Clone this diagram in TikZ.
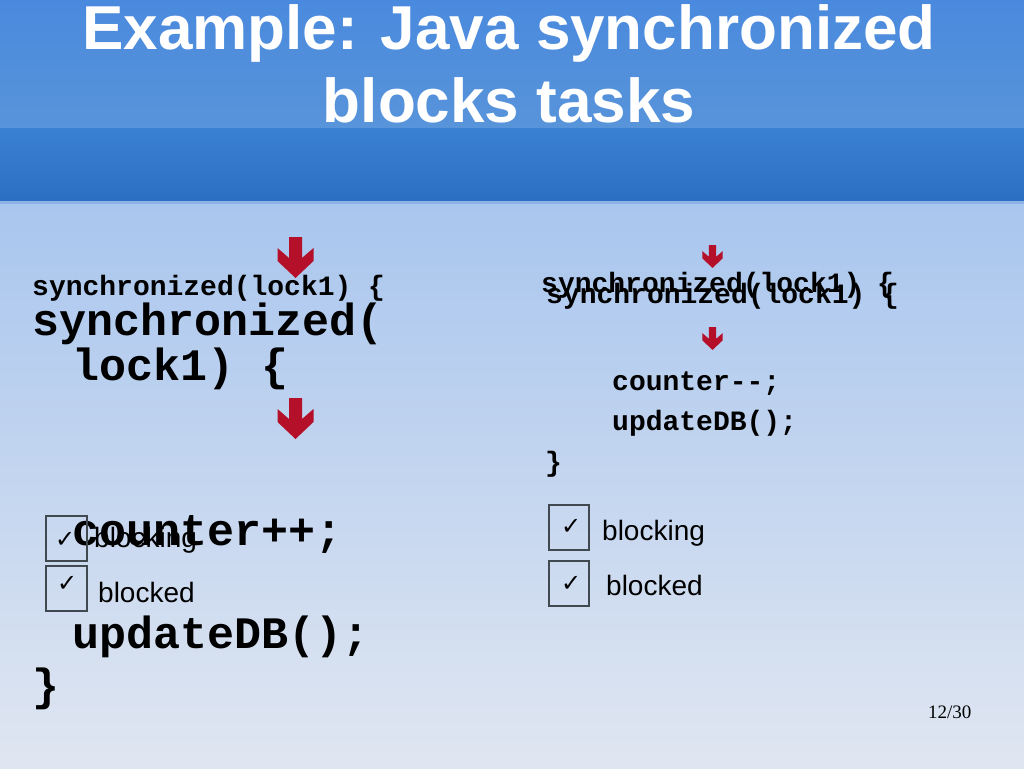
\documentclass[tikz,border=0pt]{standalone}
\usepackage{fontspec}
\setmainfont{Liberation Sans}
\newfontfamily\codefont{Liberation Mono}
\newfontfamily\pgfont{Liberation Serif}
\newfontfamily\symfont{DejaVu Sans}
\definecolor{hdrA}{RGB}{74,138,222}
\definecolor{hdrB}{RGB}{88,148,218}
\definecolor{hdrC}{RGB}{58,128,210}
\definecolor{hdrD}{RGB}{43,111,195}
\definecolor{sepline}{RGB}{140,178,230}
\definecolor{bodyA}{RGB}{169,198,238}
\definecolor{bodyB}{RGB}{224,230,241}
\definecolor{arrowred}{RGB}{180,16,42}
\definecolor{boxgray}{RGB}{64,72,80}
\tikzset{
  title/.style={inner sep=0pt, anchor=base, text=white, font=\fontsize{62}{70}\selectfont\bfseries},
  smallcode/.style={inner sep=0pt, anchor=base west, font=\codefont\bfseries\fontsize{28}{32}\selectfont},
  bigcode/.style={inner sep=0pt, anchor=base west, font=\codefont\bfseries\fontsize{45}{50}\selectfont},
  label/.style={inner sep=0pt, anchor=base west, font=\fontsize{28}{32}\selectfont},
  checkmark/.style={inner sep=0pt, anchor=base west, font=\symfont\fontsize{24}{28}\selectfont},
  checkbox/.style={draw=boxgray, line width=1.3pt, inner sep=0pt},
  pagenum/.style={inner sep=0pt, anchor=base west, font=\pgfont\fontsize{19}{22}\selectfont},
  downarrow/.pic={
    \fill[arrowred] (-6.5,0) -- (6.5,0) -- (6.5,21) -- (18,11) -- (18,24) -- (0,41)
      -- (-18,24) -- (-18,11) -- (-6.5,21) -- cycle;
  }
}
\begin{document}
\begin{tikzpicture}[x=1pt,y=-1pt]
\useasboundingbox (0,0) rectangle (1024,768);
% background
\shade[top color=hdrA, bottom color=hdrB] (0,0) rectangle (1024,128);
\shade[top color=hdrC, bottom color=hdrD] (0,128) rectangle (1024,201);
\fill[sepline] (0,201) rectangle (1024,204);
\shade[top color=bodyA, bottom color=bodyB] (0,204) rectangle (1024,768);
% title
\node[title] (t1) at (509,49) {Example: Java synchronized};
\node[title] (t2) at (509,122) {blocks tasks};
% arrows
\pic (a1) at (295.5,237) {downarrow};
\pic (a2) at (295.5,398) {downarrow};
\pic[scale=0.56] (a3) at (712.5,245) {downarrow};
\pic[scale=0.56] (a4) at (712.5,327) {downarrow};
% left code
\node[smallcode] (ls1) at (32,295) {synchronized(lock1) \{};
\node[bigcode] (lb1) at (32,335) {synchronized(};
\node[bigcode] (lb2) at (72,380) {lock1) \{};
\node[bigcode] (lb3) at (72,545) {counter++;};
\node[bigcode] (lb4) at (72,648) {updateDB();};
\node[bigcode] (lb5) at (32,700) {\}};
% left checkboxes
\node[checkbox, minimum width=41pt, minimum height=45pt] (cb1) at (66.5,538.5) {};
\node[checkbox, minimum width=41pt, minimum height=45pt] (cb2) at (66.5,588.5) {};
\node[checkmark] (ck1) at (55,547) {✓};
\node[checkmark] (ck2) at (57,591) {✓};
\node[label] (lt1) at (94,547) {blocking};
\node[label] (lt2) at (98,602) {blocked};
% right code
\node[smallcode] (rs1) at (541,292) {synchronized(lock1) \{};
\node[smallcode] (rs2) at (546,303) {synchronized(lock1) \{};
\node[smallcode] (rc1) at (612,390) {counter--;};
\node[smallcode] (rc2) at (612,430) {updateDB();};
\node[smallcode] (rc3) at (545,471) {\}};
% right checkboxes
\node[checkbox, minimum width=40pt, minimum height=45pt] (cb3) at (569,527.5) {};
\node[checkbox, minimum width=40pt, minimum height=45pt] (cb4) at (569,583.5) {};
\node[checkmark] (ck3) at (561,534) {✓};
\node[checkmark] (ck4) at (561,591) {✓};
\node[label] (rt1) at (602,540) {blocking};
\node[label] (rt2) at (606,595) {blocked};
% page number
\node[pagenum] (pg) at (928,718) {12/30};
\end{tikzpicture}
\end{document}
